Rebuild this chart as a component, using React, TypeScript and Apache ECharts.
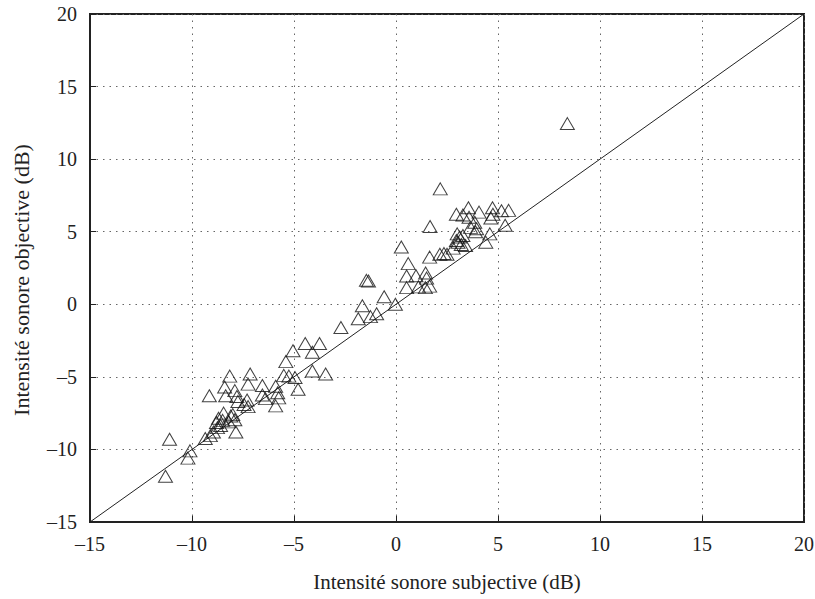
import React, { useEffect, useRef } from "react";
import * as echarts from "echarts";

const xTicks = [-15, -10, -5, 0, 5, 10, 15, 20];
const yTicks = [-15, -10, -5, 0, 5, 10, 15, 20];
const xTitle = "Intensité sonore subjective (dB)";
const yTitle = "Intensité sonore objective (dB)";

const lowPoints: number[][] = [
  [-11.3, -11.85], [-11.1, -9.3], [-10.1, -10.1], [-10.2, -10.6],
  [-9.35, -9.25], [-9.1, -9.05], [-8.95, -8.8], [-8.75, -8.5], [-8.6, -8.35],
  [-8.8, -8.15], [-8.5, -8.0], [-8.2, -8.1], [-7.9, -7.95], [-8.7, -7.85],
  [-8.1, -7.7], [-8.45, -7.5], [-7.85, -8.8], [-8.0, -7.6],
];

const clusterPoints: number[][] = [
  [-9.15, -6.3], [-8.4, -5.7], [-8.35, -6.3], [-8.15, -4.95], [-7.9, -5.95],
  [-7.8, -6.35], [-7.75, -6.7], [-7.3, -6.6], [-7.25, -7.05], [-7.25, -5.5],
  [-7.45, -6.9], [-7.15, -4.8], [-6.55, -5.6], [-6.55, -6.25], [-6.4, -6.5],
  [-5.9, -5.65], [-5.8, -6.1], [-5.75, -6.45], [-5.9, -7.0], [-5.4, -3.95],
  [-5.5, -4.9], [-5.25, -4.95], [-4.95, -5.05], [-4.8, -5.85], [-5.05, -3.2],
  [-4.45, -2.7], [-3.75, -2.7], [-4.1, -3.3], [-4.1, -4.6], [-3.45, -4.8],
  [-2.7, -1.6],
];

const midPoints: number[][] = [
  [-1.85, -1.0], [-1.25, -0.85], [-0.95, -0.65], [-1.65, -0.1], [-0.03, 0.0],
  [-0.58, 0.52], [-1.45, 1.65], [-1.35, 1.6], [0.26, 3.95], [0.6, 2.8],
  [0.52, 1.95], [0.98, 1.97], [1.45, 2.15], [1.5, 1.8], [0.52, 1.15],
  [1.1, 1.2], [1.44, 1.15], [1.65, 1.25], [1.65, 3.25], [1.67, 5.36],
  [2.15, 3.45], [2.35, 3.5], [2.5, 3.45], [2.17, 7.95],
];

const highPoints: number[][] = [
  [2.96, 6.2], [3.55, 6.65], [3.28, 6.15], [4.07, 6.35], [4.73, 6.65],
  [5.17, 6.45], [5.52, 6.47], [4.65, 5.95], [4.75, 6.2], [3.58, 6.0],
  [3.86, 5.65], [3.95, 5.2], [3.65, 5.3], [3.9, 5.0], [5.35, 5.45],
  [3.0, 4.85], [3.12, 4.63], [3.28, 4.74], [2.96, 4.4], [3.04, 4.27],
  [3.2, 4.12], [3.41, 4.05], [2.8, 3.87], [4.6, 4.85], [4.4, 4.28],
  [8.4, 12.45],
];

const identityLine: number[][] = [
  [-15, -15],
  [20, 20],
];

const fmt = (v: number) => String(v).replace("-", "\u2013");
const FONT = "Liberation Serif";

export default function App() {
  const ref = useRef<HTMLDivElement>(null);
  useEffect(() => {
    if (!ref.current) return;
    const chart = echarts.init(ref.current, undefined, { renderer: "svg" });
    const axisCommon = {
      type: "value" as const,
      min: xTicks[0],
      max: xTicks[xTicks.length - 1],
      interval: 5,
      axisLine: { show: true, onZero: false, lineStyle: { color: "#222", width: 2 } },
      axisTick: { show: true, inside: true, length: 6, lineStyle: { color: "#222", width: 1 } },
      splitLine: { show: true, lineStyle: { color: "#666", width: 1, type: [1.5, 5] } },
      axisLabel: {
        formatter: fmt,
        fontFamily: FONT,
        fontSize: 20,
        color: "#222",
      },
    };
    chart.setOption({
      animation: false,
      backgroundColor: "#fff",
      grid: {
        left: 90,
        right: 11,
        top: 14,
        bottom: 77,
        containLabel: false,
        outerBoundsMode: "none",
        show: true,
        borderColor: "#222",
        borderWidth: 2,
      },
      xAxis: {
        ...axisCommon,
        axisLabel: { ...axisCommon.axisLabel, margin: 12 },
        name: xTitle,
        nameLocation: "middle",
        nameGap: 49,
        nameTextStyle: { fontFamily: FONT, fontSize: 21, color: "#222" },
      },
      yAxis: {
        ...axisCommon,
        min: yTicks[0],
        max: yTicks[yTicks.length - 1],
        axisLabel: { ...axisCommon.axisLabel, margin: 13 },
      },
      graphic: [
        {
          type: "text",
          x: 21,
          y: 280,
          rotation: Math.PI / 2,
          style: {
            text: yTitle,
            fontFamily: FONT,
            fontSize: 22,
            fill: "#222",
            align: "center",
            verticalAlign: "middle",
          },
        },
      ],
      series: [
        {
          type: "line",
          data: identityLine,
          symbol: "none",
          lineStyle: { color: "#222", width: 1 },
          silent: true,
          z: 1,
        },
        {
          type: "scatter",
          data: [...lowPoints, ...clusterPoints, ...midPoints, ...highPoints],
          symbol: "triangle",
          symbolSize: [14, 12],
          itemStyle: { color: "rgba(0,0,0,0)", borderColor: "#111", borderWidth: 1 },
          z: 3,
        },
      ],
    });
    return () => chart.dispose();
  }, []);
  return <div ref={ref} style={{ width: 815, height: 599, position: "absolute", left: 0, top: 0 }} />;
}
